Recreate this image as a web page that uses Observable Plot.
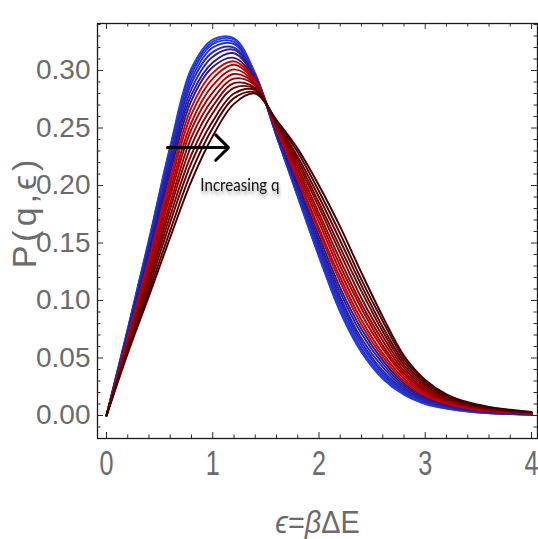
<!DOCTYPE html>
<html><head><meta charset="utf-8">
<script src="https://cdn.jsdelivr.net/npm/d3@7"></script>
<script src="https://cdn.jsdelivr.net/npm/@observablehq/plot@0.6"></script>
<style>html,body{margin:0;padding:0;background:#fff}#chart svg{display:block}</style>
</head><body><div id="chart"></div>
<script>
// ε grid
const eps = [0,0.2,0.4,0.6,0.8,1.0,1.2,1.4,1.6,1.8,2.0,2.2,2.4,2.6,2.8,3.0,3.2,3.4,3.6,3.8,4.0];
// P(q,ε), lowest q (blue) to highest q (dark red)
const c01 = [0,.075,.153,.234,.302,.327,.328,.297,.243,.190,.138,.090,.055,.032,.018,.010,.006,.0035,.002,.0012,.0007];
const c02 = [0,.075,.152,.233,.300,.325,.327,.297,.243,.191,.139,.091,.056,.033,.0187,.0104,.0062,.0037,.0021,.0013,.0007];
const c03 = [0,.074,.151,.230,.297,.323,.325,.296,.244,.192,.141,.094,.058,.035,.0197,.0111,.0066,.0039,.0023,.0014,.0008];
const c04 = [0,.073,.149,.227,.293,.320,.323,.295,.244,.194,.143,.097,.061,.037,.021,.0119,.0071,.0042,.0025,.0015,.0009];
const c05 = [0,.072,.146,.224,.289,.316,.320,.295,.245,.196,.146,.100,.064,.039,.0225,.0128,.0077,.0046,.0027,.0017,.0010];
const c06 = [0,.071,.144,.220,.284,.312,.318,.294,.246,.198,.149,.103,.067,.042,.0241,.0138,.0083,.0049,.0030,.0019,.0011];
const c07 = [0,.070,.142,.216,.279,.307,.315,.293,.246,.200,.152,.107,.071,.045,.0259,.0149,.0089,.0054,.0033,.0021,.0012];
const c08 = [0,.069,.139,.211,.274,.303,.311,.292,.247,.202,.156,.111,.075,.048,.0278,.0161,.0096,.0058,.0036,.0023,.0014];
const c09 = [0,.068,.136,.206,.268,.298,.308,.291,.248,.205,.160,.116,.079,.051,.0298,.0173,.0104,.0063,.0039,.0025,.0015];
const c10 = [0,.066,.133,.201,.262,.293,.305,.290,.249,.207,.163,.120,.083,.054,.0320,.0186,.0111,.0068,.0043,.0028,.0017];
const c11 = [0,.065,.130,.196,.255,.287,.301,.289,.250,.210,.168,.125,.088,.058,.0342,.0200,.0120,.0073,.0046,.0030,.0018];
const c12 = [0,.064,.126,.191,.249,.281,.297,.288,.251,.213,.172,.130,.093,.061,.0365,.0214,.0128,.0079,.0050,.0033,.0020];
const c13 = [0,.062,.123,.185,.242,.275,.293,.287,.252,.216,.176,.135,.097,.065,.0389,.0229,.0137,.0084,.0054,.0035,.0021];
const c14 = [0,.061,.119,.180,.235,.269,.289,.285,.253,.219,.181,.141,.102,.069,.0414,.0244,.0146,.0090,.0058,.0038,.0023];
const c15 = [0,.059,.116,.174,.227,.263,.285,.284,.254,.222,.185,.146,.108,.073,.0439,.0260,.0155,.0096,.0062,.0041,.0025];
const c16 = [0,.057,.112,.168,.220,.256,.280,.283,.255,.225,.190,.152,.113,.077,.0465,.0276,.0165,.0102,.0066,.0044,.0026];
const c17 = [0,.056,.108,.161,.212,.250,.276,.281,.256,.229,.195,.158,.118,.082,.0492,.0293,.0175,.0109,.0071,.0047,.0028];
const c18 = [0,.054,.104,.155,.204,.243,.271,.280,.257,.232,.200,.164,.124,.086,.052,.031,.0185,.0115,.0075,.005,.003];
const curves = [c01,c02,c03,c04,c05,c06,c07,c08,c09,c10,c11,c12,c13,c14,c15,c16,c17,c18];

const xTicks = [0,1,2,3,4];
const yTicks = [0,0.05,0.10,0.15,0.20,0.25,0.30];
const yTickLabels = ["0.00","0.05","0.10","0.15","0.20","0.25","0.30"];
const xLabel = "ϵ=βΔE";
const yLabel = "P(q,ϵ)";
const noteText = ["Increasing q"];
const noteX = [1.256];
const noteY = [0.200];
const arrowX1 = [0.574];
const arrowX2 = [1.148];
const arrowY = [0.233];

const xMinor = d3.range(1,20).filter(i => i % 5 !== 0).map(i => i/5);
const yMinor = d3.range(-1,35).filter(i => i % 5 !== 0).map(i => i/100);

function col(i){
  return i <= 7 ? d3.interpolateRgb("#1e40ff","#30157a")(i/7)
                : d3.interpolateRgb("#d20000","#3c0000")((i-8)/9);
}
const rows = curves.flatMap((c,i) => c.map((p,k) => ({eps: eps[k], p, q: i, color: col(i)})));
const notes = noteText.map((t,i) => ({t, x: noteX[i], y: noteY[i]}));
const arrows = arrowX1.map((x1,i) => ({x1, x2: arrowX2[i], y: arrowY[i]}));

const W = 538, H = 539, mL = 97, mR = 1, mT = 23, mB = 101;
const fw = W - mL - mR, fh = H - mT - mB;
const tickCol = "#2a2a2a", labCol = "#6b6b6b";

const chart = Plot.plot({
  width: W, height: H,
  marginLeft: mL, marginRight: mR, marginTop: mT, marginBottom: mB,
  x: {domain: [-0.0847, 4.0565], axis: null},
  y: {domain: [-0.02, 0.3409], axis: null},
  color: {type: "identity"},
  style: {background: "#fff", fontFamily: "Liberation Sans, Arial, sans-serif"},
  marks: [
    Plot.line(rows, {x: "eps", y: "p", z: "q", stroke: "color", strokeWidth: 1.9, curve: "catmull-rom"}),
    Plot.frame({stroke: "#1a1a1a", strokeWidth: 1.3}),
    Plot.ruleX(xTicks, {x: d => d, insetTop: fh - 6, stroke: tickCol}),
    Plot.ruleX(xMinor, {x: d => d, insetTop: fh - 3.5, stroke: tickCol}),
    Plot.ruleX(xTicks, {x: d => d, insetBottom: fh - 6, stroke: tickCol}),
    Plot.ruleX(xMinor, {x: d => d, insetBottom: fh - 3.5, stroke: tickCol}),
    Plot.ruleY(yTicks, {y: d => d, insetRight: fw - 6, stroke: tickCol}),
    Plot.ruleY(yMinor, {y: d => d, insetRight: fw - 3.5, stroke: tickCol}),
    Plot.ruleY(yTicks, {y: d => d, insetLeft: fw - 6, stroke: tickCol}),
    Plot.ruleY(yMinor, {y: d => d, insetLeft: fw - 3.5, stroke: tickCol}),
    Plot.text(xTicks, {x: d => d, text: d => String(d), frameAnchor: "bottom", textAnchor: "middle", lineAnchor: "top", dy: 12,
      fontSize: 35, fill: labCol}),
    Plot.text(yTicks, {y: d => d, text: (d,i) => yTickLabels[i], frameAnchor: "left", textAnchor: "end", lineAnchor: "middle", dx: -7,
      fontSize: 28, fill: labCol}),
    Plot.text([yLabel], {text: d => d, frameAnchor: "left", textAnchor: "middle", lineAnchor: "middle", rotate: -90, dx: -72, dy: -19,
      fontSize: 34, fill: labCol}),
    Plot.text([xLabel], {text: d => d, frameAnchor: "bottom", textAnchor: "middle", lineAnchor: "middle", dy: 84, fontSize: 32, fill: labCol}),
    Plot.arrow(arrows, {x1: "x1", x2: "x2", y1: "y", y2: "y", stroke: "#000", strokeWidth: 3, headLength: 9, headAngle: 90}),
    Plot.text(notes, {x: "x", y: "y", text: "t", fontFamily: "Lato", fontSize: 18, fill: "#111"})
  ]
});
document.getElementById("chart").appendChild(chart);

function squeeze(el, sx){
  const t = el.getAttribute("transform") || "";
  el.setAttribute("transform", `${t} scale(${sx},1)`);
}
const allText = Array.from(chart.querySelectorAll("text"));
allText.forEach(el => {
  const s = el.textContent;
  if (xTicks.map(String).includes(s)) squeeze(el, 0.72);
  else if (s === noteText[0]) {
    squeeze(el, 0.84);
    el.style.filter = "drop-shadow(1px 3px 2px rgba(0,0,0,0.4))";
  } else if (s === yLabel) {
    el.style.letterSpacing = "4px";
  } else if (s === xLabel) {
    squeeze(el, 0.9);
    const sel = d3.select(el); sel.text("");
    [["ϵ",true],["=",false],["β",true],["ΔE",false]].forEach(([t,it]) => {
      sel.append("tspan").text(t).attr("font-style", it ? "italic" : null);
    });
  }
});
</script></body></html>
